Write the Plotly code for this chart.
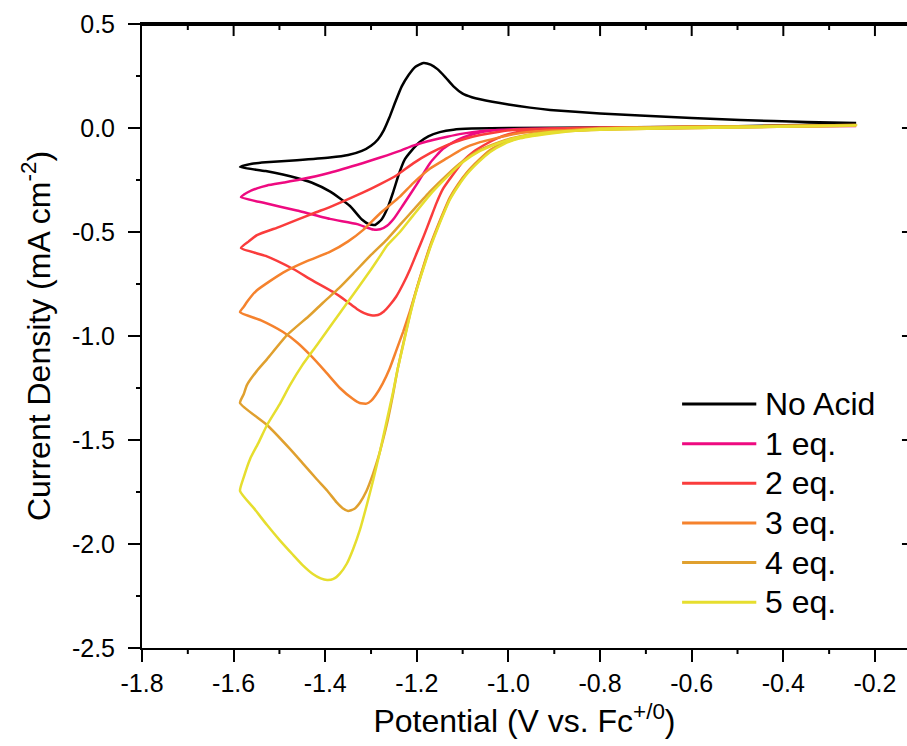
import plotly.graph_objects as go

# ---------------- data (Potential V vs Fc+/0, Current density mA cm^-2) ----------------
names = ["No Acid", "1 eq.", "2 eq.", "3 eq.", "4 eq.", "5 eq."]
colors = ["#000000", "#EE0A80", "#FA3C3C", "#F5822D", "#E0A02E", "#E6DE2E"]

x_ticks = [-1.8, -1.6, -1.4, -1.2, -1.0, -0.8, -0.6, -0.4, -0.2]
x_ticklabels = ["-1.8", "-1.6", "-1.4", "-1.2", "-1.0", "-0.8", "-0.6", "-0.4", "-0.2"]
x_minor = [-1.7, -1.5, -1.3, -1.1, -0.9, -0.7, -0.5, -0.3]
y_ticks = [0.5, 0.0, -0.5, -1.0, -1.5, -2.0, -2.5]
y_ticklabels = ["0.5", "0.0", "-0.5", "-1.0", "-1.5", "-2.0", "-2.5"]
y_minor = [0.25, -0.25, -0.75, -1.25, -1.75, -2.25]

# No Acid  (forward = cathodic scan from -0.24 V, reverse = back to -0.24 V)
e0_fwd = [-0.241, -0.5, -0.8, -1.0, -1.08, -1.12, -1.15, -1.175, -1.195, -1.212, -1.226, -1.239,
          -1.252, -1.264, -1.277, -1.291, -1.305, -1.32, -1.346, -1.39, -1.43, -1.462, -1.53, -1.586]
j0_fwd = [0.02, 0.008, 0.002, 0.0, -0.003, -0.008, -0.02, -0.04, -0.07, -0.11, -0.15, -0.22,
          -0.31, -0.385, -0.44, -0.466, -0.462, -0.44, -0.375, -0.305, -0.262, -0.24, -0.207, -0.1875]
e0_rev = [-1.56, -1.53, -1.462, -1.39, -1.35, -1.32, -1.30, -1.285, -1.272, -1.26, -1.247, -1.233,
          -1.218, -1.203, -1.186, -1.17, -1.155, -1.138, -1.12, -1.10, -1.08, -1.062, -1.0, -0.953,
          -0.909, -0.80, -0.713, -0.60, -0.494, -0.348, -0.241]
j0_rev = [-0.172, -0.165, -0.155, -0.142, -0.13, -0.11, -0.085, -0.055, -0.01, 0.05, 0.125, 0.20,
          0.255, 0.295, 0.3125, 0.305, 0.283, 0.245, 0.20, 0.165, 0.148, 0.138, 0.113, 0.098,
          0.087, 0.070, 0.060, 0.048, 0.038, 0.029, 0.024]

# 1 eq.
e1_fwd = [-0.241, -0.6, -0.85, -0.95, -1.0, -1.04, -1.07, -1.099, -1.122, -1.143, -1.171, -1.2,
          -1.23, -1.25, -1.265, -1.28, -1.295, -1.31, -1.33, -1.39, -1.462, -1.53, -1.584]
j1_fwd = [0.012, 0.005, 0.0, -0.004, -0.007, -0.013, -0.025, -0.045, -0.07, -0.10, -0.168, -0.27,
          -0.37, -0.435, -0.47, -0.487, -0.488, -0.478, -0.462, -0.437, -0.397, -0.362, -0.332]
e1_rev = [-1.57, -1.549, -1.527, -1.49, -1.455, -1.39, -1.317, -1.28, -1.237, -1.208, -1.165,
          -1.134, -1.10, -1.062, -1.0, -0.90, -0.7, -0.241]
j1_rev = [-0.31, -0.29, -0.276, -0.262, -0.248, -0.215, -0.168, -0.142, -0.11, -0.085, -0.058,
          -0.042, -0.027, -0.015, -0.007, -0.002, 0.003, 0.01]

# 2 eq.
e2_fwd = [-0.241, -0.6, -0.85, -0.953, -1.0, -1.025, -1.05, -1.077, -1.095, -1.112, -1.128, -1.143,
          -1.157, -1.171, -1.185, -1.2, -1.215, -1.23, -1.245, -1.259, -1.272, -1.285, -1.30, -1.315,
          -1.331, -1.355, -1.383, -1.43, -1.47, -1.53, -1.584]
j2_fwd = [0.012, 0.005, 0.0, -0.01, -0.03, -0.05, -0.078, -0.115, -0.15, -0.197, -0.245, -0.293,
          -0.36, -0.44, -0.52, -0.60, -0.68, -0.75, -0.81, -0.851, -0.882, -0.899, -0.9, -0.89,
          -0.87, -0.83, -0.788, -0.73, -0.678, -0.615, -0.577]
e2_rev = [-1.567, -1.549, -1.50, -1.462, -1.42, -1.39, -1.317, -1.28, -1.243, -1.208, -1.17,
          -1.134, -1.10, -1.062, -1.02, -0.99, -0.9, -0.7, -0.241]
j2_rev = [-0.545, -0.515, -0.475, -0.442, -0.405, -0.38, -0.31, -0.27, -0.226, -0.17, -0.12,
          -0.082, -0.055, -0.034, -0.018, -0.01, -0.003, 0.003, 0.012]

# 3 eq.
e3_fwd = [-0.241, -0.6, -0.80, -0.903, -0.975, -1.01, -1.04, -1.065, -1.09, -1.11, -1.128, -1.143,
          -1.156, -1.17, -1.185, -1.2, -1.215, -1.23, -1.245, -1.26, -1.275, -1.29, -1.30, -1.31,
          -1.325, -1.34, -1.368, -1.40, -1.433, -1.462, -1.492, -1.54, -1.586]
j3_fwd = [0.014, 0.007, 0.0, -0.019, -0.043, -0.07, -0.106, -0.155, -0.212, -0.27, -0.335, -0.41,
          -0.48, -0.56, -0.66, -0.77, -0.88, -0.98, -1.07, -1.16, -1.23, -1.285, -1.312, -1.325,
          -1.322, -1.302, -1.25, -1.17, -1.091, -1.03, -0.981, -0.925, -0.885]
e3_rev = [-1.578, -1.571, -1.56, -1.549, -1.52, -1.492, -1.44, -1.39, -1.35, -1.317, -1.28, -1.237,
          -1.208, -1.171, -1.134, -1.10, -1.062, -1.02, -0.99, -0.95, -0.90, -0.80, -0.6, -0.241]
j3_rev = [-0.86, -0.837, -0.805, -0.78, -0.735, -0.695, -0.64, -0.596, -0.545, -0.49, -0.41, -0.33,
          -0.265, -0.195, -0.145, -0.10, -0.068, -0.045, -0.03, -0.018, -0.012, -0.005, 0.0, 0.012]

# 4 eq.
e4_fwd = [-0.241, -0.6, -0.80, -0.903, -0.975, -1.01, -1.04, -1.065, -1.09, -1.11, -1.128, -1.143,
          -1.156, -1.17, -1.185, -1.2, -1.215, -1.23, -1.242, -1.252, -1.263, -1.274, -1.285, -1.296,
          -1.31, -1.324, -1.337, -1.35, -1.362, -1.375, -1.395, -1.418, -1.45, -1.477, -1.527, -1.586]
j4_fwd = [0.014, 0.006, -0.002, -0.022, -0.047, -0.073, -0.11, -0.158, -0.215, -0.275, -0.34, -0.415,
          -0.485, -0.565, -0.665, -0.77, -0.895, -1.04, -1.16, -1.28, -1.40, -1.50, -1.59, -1.665,
          -1.745, -1.80, -1.832, -1.841, -1.828, -1.80, -1.745, -1.69, -1.61, -1.543, -1.428, -1.322]
e4_rev = [-1.578, -1.571, -1.55, -1.527, -1.483, -1.433, -1.405, -1.37, -1.339, -1.30, -1.265,
          -1.237, -1.208, -1.171, -1.134, -1.10, -1.062, -1.02, -0.99, -0.95, -0.916, -0.80, -0.6, -0.241]
j4_rev = [-1.28, -1.236, -1.17, -1.111, -0.995, -0.899, -0.84, -0.77, -0.70, -0.61, -0.535,
          -0.466, -0.395, -0.305, -0.225, -0.16, -0.105, -0.068, -0.048, -0.03, -0.021, -0.008, 0.0, 0.012]

# 5 eq.
e5_fwd = [-0.241, -0.6, -0.80, -0.903, -0.975, -1.01, -1.04, -1.065, -1.09, -1.11, -1.128, -1.143,
          -1.156, -1.17, -1.185, -1.2, -1.215, -1.23, -1.242, -1.252, -1.266, -1.28, -1.295, -1.309,
          -1.324, -1.339, -1.353, -1.368, -1.382, -1.396, -1.41, -1.427, -1.45, -1.47, -1.50, -1.527,
          -1.555, -1.586]
j5_fwd = [0.012, 0.004, -0.004, -0.025, -0.05, -0.077, -0.115, -0.163, -0.22, -0.28, -0.345, -0.42,
          -0.49, -0.57, -0.67, -0.775, -0.90, -1.045, -1.16, -1.27, -1.41, -1.55, -1.69, -1.81,
          -1.93, -2.024, -2.095, -2.142, -2.168, -2.173, -2.165, -2.144, -2.10, -2.053, -1.98, -1.909,
          -1.83, -1.745]
e5_rev = [-1.578, -1.564, -1.545, -1.527, -1.50, -1.477, -1.45, -1.418, -1.383, -1.352, -1.324,
          -1.30, -1.28, -1.265, -1.237, -1.208, -1.171, -1.134, -1.10, -1.062, -1.02, -0.99, -0.95,
          -0.916, -0.80, -0.6, -0.241]
j5_rev = [-1.68, -1.591, -1.51, -1.428, -1.33, -1.236, -1.14, -1.043, -0.935, -0.84, -0.755,
          -0.68, -0.615, -0.565, -0.50, -0.42, -0.32, -0.235, -0.165, -0.11, -0.072, -0.05, -0.031,
          -0.021, -0.008, 0.0, 0.012]

series_e = [e0_fwd + e0_rev, e1_fwd + e1_rev, e2_fwd + e2_rev,
            e3_fwd + e3_rev, e4_fwd + e4_rev, e5_fwd + e5_rev]
series_j = [j0_fwd + j0_rev, j1_fwd + j1_rev, j2_fwd + j2_rev,
            j3_fwd + j3_rev, j4_fwd + j4_rev, j5_fwd + j5_rev]

x_range = [-1.8, -0.13]
y_range = [-2.5, 0.5]

FONT = "Liberation Sans, Arial, sans-serif"
TICK_SIZE = 25
TITLE_SIZE = 32
PLOT_W, PLOT_H = 765, 624   # plot-area size in px (for tick lengths drawn as shapes)

fig = go.Figure()

# top frame line and inward ticks, drawn as traces clipped by the plot area
fig.add_trace(go.Scatter(x=x_range, y=[y_range[1]] * 2, mode="lines",
                         line=dict(color="black", width=4), showlegend=False, hoverinfo="skip"))
fig.add_trace(go.Scatter(x=x_ticks[1:], y=[y_range[1]] * (len(x_ticks) - 1), mode="markers",
                         marker=dict(symbol="line-ns", size=17.2, color="black",
                                     line=dict(color="black", width=2)),
                         showlegend=False, hoverinfo="skip"))
fig.add_trace(go.Scatter(x=x_minor, y=[y_range[1]] * len(x_minor), mode="markers",
                         marker=dict(symbol="line-ns", size=8.6, color="black",
                                     line=dict(color="black", width=2)),
                         showlegend=False, hoverinfo="skip"))
# right-edge inward ticks (the frame line itself lies just outside the picture)
fig.add_trace(go.Scatter(x=[x_range[1]] * (len(y_ticks) - 2), y=y_ticks[1:-1], mode="markers",
                         marker=dict(symbol="line-ew", size=7.2, color="black",
                                     line=dict(color="black", width=2)),
                         showlegend=False, hoverinfo="skip"))

for i in range(len(names)):
    fig.add_trace(go.Scatter(
        x=series_e[i], y=series_j[i], mode="lines", name=names[i],
        line=dict(color=colors[i], width=2.5, shape="spline", smoothing=0.5),
        showlegend=False))

fig.update_layout(
    width=907, height=746,
    margin=dict(l=142, r=0, t=24, b=98),
    paper_bgcolor="white", plot_bgcolor="white",
    font=dict(family=FONT, color="black", size=TICK_SIZE),
    xaxis=dict(range=x_range, tickmode="array", tickvals=x_ticks, ticktext=x_ticklabels,
               showline=True, mirror=True, linecolor="black", linewidth=2,
               ticks="outside", ticklen=12, tickwidth=2, tickcolor="black",
               showgrid=False, zeroline=False, automargin=False,
               tickfont=dict(size=TICK_SIZE, family=FONT),
               title=dict(text="Potential (V vs. Fc<sup>+/0</sup>)",
                          font=dict(size=TITLE_SIZE, family=FONT), standoff=14)),
    yaxis=dict(range=y_range, tickmode="array", tickvals=y_ticks, ticktext=y_ticklabels,
               showline=True, linecolor="black", linewidth=2,
               ticks="outside", ticklen=12, tickwidth=2, tickcolor="black",
               ticklabelstandoff=8,
               showgrid=False, zeroline=False, automargin=False,
               tickfont=dict(size=TICK_SIZE, family=FONT),
               title=dict(text="Current Density (mA cm<sup>-2</sup>)",
                          font=dict(size=TITLE_SIZE, family=FONT), standoff=12)),
)

tick_line = dict(color="black", width=2)
# minor ticks, bottom (outside) and left (outside)
for t in x_minor:
    fig.add_shape(type="line", xref="x", yref="paper", x0=t, x1=t, y0=0, y1=-6 / PLOT_H,
                  line=tick_line)
for t in y_minor:
    fig.add_shape(type="line", xref="paper", yref="y", x0=0, x1=-6 / PLOT_W, y0=t, y1=t,
                  line=tick_line)

# custom legend (long line samples like the original)
leg_x0, leg_x1, leg_tx = 0.706, 0.803, 0.812
leg_y_top, leg_dy = 0.391, 0.0635
for i, (nm, col) in enumerate(zip(names, colors)):
    yy = leg_y_top - i * leg_dy
    fig.add_shape(type="line", xref="paper", yref="paper", x0=leg_x0, x1=leg_x1, y0=yy, y1=yy,
                  line=dict(color=col, width=3))
    fig.add_annotation(xref="paper", yref="paper", x=leg_tx, y=yy, text=nm, showarrow=False,
                       xanchor="left", yanchor="middle",
                       font=dict(size=TITLE_SIZE, family=FONT, color="black"))

fig.write_html("out.html")
